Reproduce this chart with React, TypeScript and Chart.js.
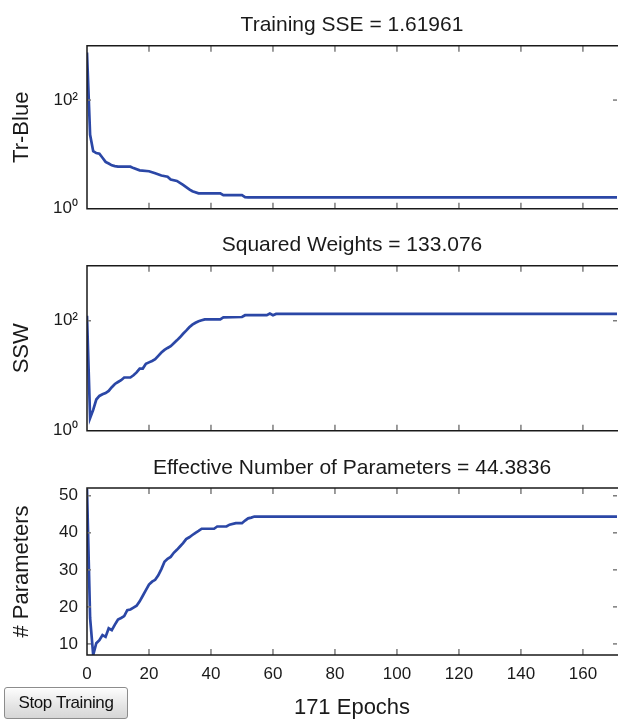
import React, { useEffect, useRef } from "react";
import { Chart, registerables } from "chart.js";

Chart.register(...registerables);

const FONT = "'Liberation Sans', Arial, Helvetica, sans-serif";
const TEXT = "#1a1a1a";
const LINE = "#2b47a6";

// ---- data ----
const xTickValues = [0, 20, 40, 60, 80, 100, 120, 140, 160];
const epochCount = 171;

const sseEpochs = [0, 1, 2, 3, 4, 5, 6, 7, 8, 9, 10, 14, 15, 17, 20, 22, 24, 26, 27, 29, 31, 33, 34, 36, 43, 44, 50, 51, 52, 171];
const sseValues = [750, 23, 11.5, 10.6, 10.3, 8.7, 7.3, 6.8, 6.3, 6.1, 5.95, 5.95, 5.6, 5.1, 4.9, 4.5, 4.1, 3.9, 3.45, 3.25, 2.75, 2.27, 2.1, 1.93, 1.93, 1.78, 1.78, 1.64, 1.62, 1.61961];

const sswEpochs = [0, 1, 2, 3, 4, 5, 6, 7, 8, 9, 10, 11, 12, 14, 15, 16, 17, 18, 19, 20, 21, 22, 23, 24, 25, 26, 27, 28, 29, 30, 31, 32, 33, 34, 35, 36, 37, 38, 43, 44, 50, 51, 58, 59, 60, 61, 171];
const sswValues = [123, 1.7, 2.4, 3.7, 4.3, 4.6, 4.85, 5.3, 6.2, 7.1, 7.7, 8.3, 9.3, 9.3, 10.2, 11.5, 13.5, 13.5, 16.5, 17.5, 18.6, 20, 23, 26.5, 29.5, 32, 34.5, 39, 44, 50, 58, 66, 76, 85, 92, 98, 102, 106, 106, 115, 117, 126, 126, 135, 126, 133, 133.076];

const parEpochs = [0, 1, 2, 3, 4, 5, 6, 7, 8, 9, 10, 11, 12, 13, 14, 15, 16, 17, 18, 19, 20, 21, 22, 23, 24, 25, 26, 27, 28, 29, 30, 31, 32, 33, 34, 35, 36, 37, 41, 42, 45, 46, 48, 50, 51, 52, 53, 54, 171];
const parValues = [51.8, 17, 7, 10.2, 11, 12.4, 11.9, 14.2, 13.7, 15.2, 16.6, 17, 17.5, 19.1, 19.3, 19.8, 20.3, 21.5, 23, 24.5, 26, 26.8, 27.3, 28.5, 30.2, 32.2, 33, 33.5, 34.6, 35.4, 36.3, 37.2, 38.3, 38.8, 39.4, 40, 40.5, 41.1, 41.1, 41.7, 41.7, 42.2, 42.6, 42.6, 43.3, 43.9, 44.1, 44.38, 44.3836];

const logTickValues = [1, 100];
const logTickLabels = ["10\u2070", "10\u00B2"];
const parTickValues = [10, 20, 30, 40, 50];

const titles = [
  "Training SSE = 1.61961",
  "Squared Weights = 133.076",
  "Effective Number of Parameters = 44.3836",
];
const yLabels = ["Tr-Blue", "SSW", "# Parameters"];
const xLabel = `${epochCount} Epochs`;

// ---- MATLAB-like box with inward ticks and a title centred on the axes ----
const boxPlugin = {
  id: "matlabBox",
  afterDraw(chart: any, _args: any, opts: any) {
    const { ctx, chartArea: a } = chart;
    const x = chart.scales.x;
    const y = chart.scales.y;
    ctx.save();
    ctx.strokeStyle = "#7c7c7c";
    ctx.lineWidth = 1.5;
    const seg = (x1: number, y1: number, x2: number, y2: number) => {
      ctx.beginPath();
      ctx.moveTo(x1, y1);
      ctx.lineTo(x2, y2);
      ctx.stroke();
    };
    x.ticks.forEach((t: any) => {
      const px = x.getPixelForValue(t.value);
      if (px <= a.left + 1 || px >= a.right - 1) return;
      seg(px, a.top, px, a.top + 6);
      seg(px, a.bottom, px, a.bottom - 6);
    });
    y.ticks.forEach((t: any) => {
      const py = y.getPixelForValue(t.value);
      if (py <= a.top + 1 || py >= a.bottom - 1) return;
      seg(a.left, py, a.left + 4, py);
      seg(a.right, py, a.right - 4, py);
    });
    ctx.strokeStyle = "#1a1a1a";
    ctx.lineWidth = 1.5;
    ctx.beginPath();
    ctx.moveTo(a.right + 2, a.top);
    ctx.lineTo(a.left, a.top);
    ctx.lineTo(a.left, a.bottom);
    ctx.lineTo(a.right + 2, a.bottom);
    ctx.stroke();
    if (opts && opts.title) {
      ctx.fillStyle = TEXT;
      ctx.font = `21px ${FONT}`;
      ctx.textAlign = "center";
      ctx.textBaseline = "middle";
      ctx.fillText(opts.title, (a.left + a.right) / 2, a.top - 20);
    }
    ctx.restore();
  },
};

type PanelOpts = {
  title: string;
  ylabel: string;
  xs: number[];
  ys: number[];
  log: boolean;
  yMin: number;
  yMax: number;
  yTicks: number[];
  yTickLabels?: string[];
  showX: boolean;
  padTop: number;
  xHeight: number;
};

function panelConfig(o: PanelOpts): any {
  const points = o.xs.map((x, i) => ({ x, y: o.ys[i] }));
  return {
    type: "line",
    data: {
      datasets: [
        {
          data: points,
          borderColor: LINE,
          borderWidth: 2.7,
          pointRadius: 0,
          tension: 0,
          fill: false,
        },
      ],
    },
    plugins: [boxPlugin],
    options: {
      responsive: false,
      animation: false,
      devicePixelRatio: 1,
      layout: { padding: { left: 0, right: 1, top: o.padTop, bottom: 0 } },
      plugins: {
        legend: { display: false },
        tooltip: { enabled: false },
        title: { display: false },
        matlabBox: { title: o.title },
      },
      scales: {
        x: {
          type: "linear",
          min: 0,
          max: epochCount,
          grid: { display: false, drawTicks: false },
          border: { display: false },
          afterBuildTicks: (s: any) => {
            s.ticks = xTickValues.map((v) => ({ value: v }));
          },
          afterFit: (s: any) => {
            s.height = o.xHeight;
          },
          ticks: {
            display: o.showX,
            padding: 9,
            color: TEXT,
            font: { family: FONT, size: 17 },
            maxRotation: 0,
            autoSkip: false,
          },
          title: {
            display: o.showX,
            text: xLabel,
            color: TEXT,
            font: { family: FONT, size: 22 },
            padding: { top: 0, bottom: 1 },
          },
        },
        y: {
          type: o.log ? "logarithmic" : "linear",
          min: o.yMin,
          max: o.yMax,
          grid: { display: false, drawTicks: false },
          border: { display: false },
          afterBuildTicks: (s: any) => {
            s.ticks = o.yTicks.map((v) => ({ value: v }));
          },
          afterFit: (s: any) => {
            s.width = 87;
          },
          ticks: {
            padding: 9,
            color: TEXT,
            font: { family: FONT, size: 17 },
            autoSkip: false,
            callback: (v: any) => {
              const i = o.yTicks.indexOf(Number(v));
              if (o.yTickLabels) return i >= 0 ? o.yTickLabels[i] : "";
              return String(v);
            },
          },
          title: {
            display: true,
            text: o.ylabel,
            color: TEXT,
            font: { family: FONT, size: 22 },
            padding: { top: 9, bottom: 0 },
          },
        },
      },
    },
  };
}

export default function App() {
  const c1 = useRef<HTMLCanvasElement>(null);
  const c2 = useRef<HTMLCanvasElement>(null);
  const c3 = useRef<HTMLCanvasElement>(null);

  useEffect(() => {
    const charts = [
      new Chart(
        c1.current!,
        panelConfig({
          title: titles[0],
          ylabel: yLabels[0],
          xs: sseEpochs,
          ys: sseValues,
          log: true,
          yMin: 1,
          yMax: 1000,
          yTicks: logTickValues,
          yTickLabels: logTickLabels,
          showX: false,
          padTop: 45.7,
          xHeight: 15.3,
        })
      ),
      new Chart(
        c2.current!,
        panelConfig({
          title: titles[1],
          ylabel: yLabels[1],
          xs: sswEpochs,
          ys: sswValues,
          log: true,
          yMin: 1,
          yMax: 1000,
          yTicks: logTickValues,
          yTickLabels: logTickLabels,
          showX: false,
          padTop: 37.7,
          xHeight: 17.3,
        })
      ),
      new Chart(
        c3.current!,
        panelConfig({
          title: titles[2],
          ylabel: yLabels[2],
          xs: parEpochs,
          ys: parValues,
          log: false,
          yMin: 7,
          yMax: 52.1,
          yTicks: parTickValues,
          showX: true,
          padTop: 38,
          xHeight: 67,
        })
      ),
    ];
    return () => charts.forEach((c) => c.destroy());
  }, []);

  return (
    <div
      style={{
        position: "absolute",
        left: 0,
        top: 0,
        width: 618,
        height: 722,
        overflow: "hidden",
        background: "#ffffff",
      }}
    >
      <canvas ref={c1} width={618} height={228} style={{ position: "absolute", left: 0, top: 0 }} />
      <canvas ref={c2} width={618} height={222} style={{ position: "absolute", left: 0, top: 228 }} />
      <canvas ref={c3} width={618} height={272} style={{ position: "absolute", left: 0, top: 450 }} />
      <button
        style={{
          position: "absolute",
          left: 4,
          top: 687,
          width: 124,
          height: 32,
          padding: 0,
          border: "1px solid #8c8c8c",
          borderRadius: 3,
          background: "linear-gradient(#fdfdfd, #e4e4e4 60%, #d6d6d6)",
          color: "#111",
          fontFamily: FONT,
          fontSize: 17,
          letterSpacing: -0.4,
          boxShadow: "inset 0 1px 0 #fff",
        }}
      >
        Stop Training
      </button>
    </div>
  );
}
